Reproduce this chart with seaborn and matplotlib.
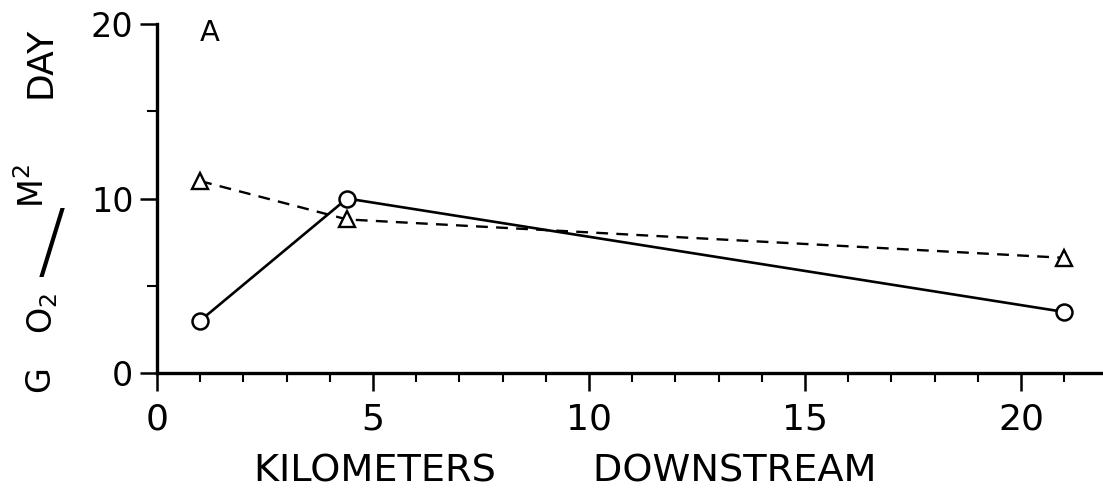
import matplotlib
matplotlib.use("Agg")
import matplotlib.pyplot as plt
import seaborn as sns
import pandas as pd
from matplotlib.ticker import MultipleLocator

sns.set_style("ticks")
plt.rcParams['font.family'] = ['DejaVu Sans']
plt.rcParams.update({"text.color": "black", "axes.labelcolor": "black",
                     "xtick.color": "black", "ytick.color": "black",
                     "axes.edgecolor": "black"})

km = [1.0, 4.4, 21.0]
solid_vals = [3.0, 10.0, 3.5]      # circles
dashed_vals = [11.0, 8.8, 6.6]     # triangles

x_ticks = [0, 5, 10, 15, 20]
y_ticks = [0, 10, 20]

df_solid = pd.DataFrame({"km": km, "val": solid_vals})
df_dash = pd.DataFrame({"km": km, "val": dashed_vals})

W, H = 1103, 494
fig = plt.figure(figsize=(W / 100, H / 100), dpi=100)
ax = fig.add_axes([157 / W, 1 - 373 / H, (W - 157) / W, (373 - 24) / H])

sns.lineplot(data=df_dash, x="km", y="val", ax=ax, color="black", lw=1.7,
             marker="^", markersize=11, markerfacecolor="white",
             markeredgecolor="black", markeredgewidth=1.7,
             linestyle=(0, (5, 3.5)))
sns.lineplot(data=df_solid, x="km", y="val", ax=ax, color="black", lw=1.9,
             marker="o", markersize=11.5, markerfacecolor="white",
             markeredgecolor="black", markeredgewidth=1.8)

ax.set_xlim(0, 21.9)
ax.set_ylim(0, 20)
ax.xaxis.set_minor_locator(MultipleLocator(1))
ax.yaxis.set_minor_locator(MultipleLocator(5))
ax.set_xticks(x_ticks)
ax.set_yticks(y_ticks)

for s in ["top", "right"]:
    ax.spines[s].set_visible(False)
for s in ["left", "bottom"]:
    ax.spines[s].set_linewidth(2.4)
    ax.spines[s].set_color("black")
    ax.spines[s].set_capstyle("projecting")

ax.tick_params(axis="x", which="major", length=13, width=1.8, direction="out",
               labelsize=26, pad=8, colors="black")
ax.tick_params(axis="x", which="minor", length=6.5, width=1.5, direction="out",
               colors="black")
ax.tick_params(axis="y", which="major", length=12, width=1.8, direction="out",
               labelsize=24, pad=5, colors="black")
ax.tick_params(axis="y", which="minor", length=7, width=1.5, direction="out",
               colors="black")

ax.set_xlabel("KILOMETERS        DOWNSTREAM", fontsize=27.5, va="center",
              color="black")
ax.xaxis.set_label_coords(0.432, -(471 - 373) / (373 - 24))
ax.set_ylabel("")

# y-axis label pieces: G  O2 / M2  DAY
def fx(px):
    return px / W

def fy(py):
    return 1 - py / H

kw = dict(rotation=90, fontsize=24, ha="center", va="center", color="black")
fig.text(fx(40), fy(379), "G", **kw)
fig.text(fx(43), fy(313), r"O$_2$", **kw)
fig.text(fx(52), fy(246), "/", rotation=0, fontsize=60, fontweight=200,
         ha="center", va="center", color="black")
fig.text(fx(34), fy(186), r"M$^2$", **kw)
fig.text(fx(41), fy(62), "DAY", **{**kw, "fontsize": 26})

ax.text(1.23, 19.5, "A", fontsize=21, ha="center", va="center", color="black")

ax.set_facecolor("white")
fig.patch.set_facecolor("white")
fig.savefig("out.png", dpi=100)
